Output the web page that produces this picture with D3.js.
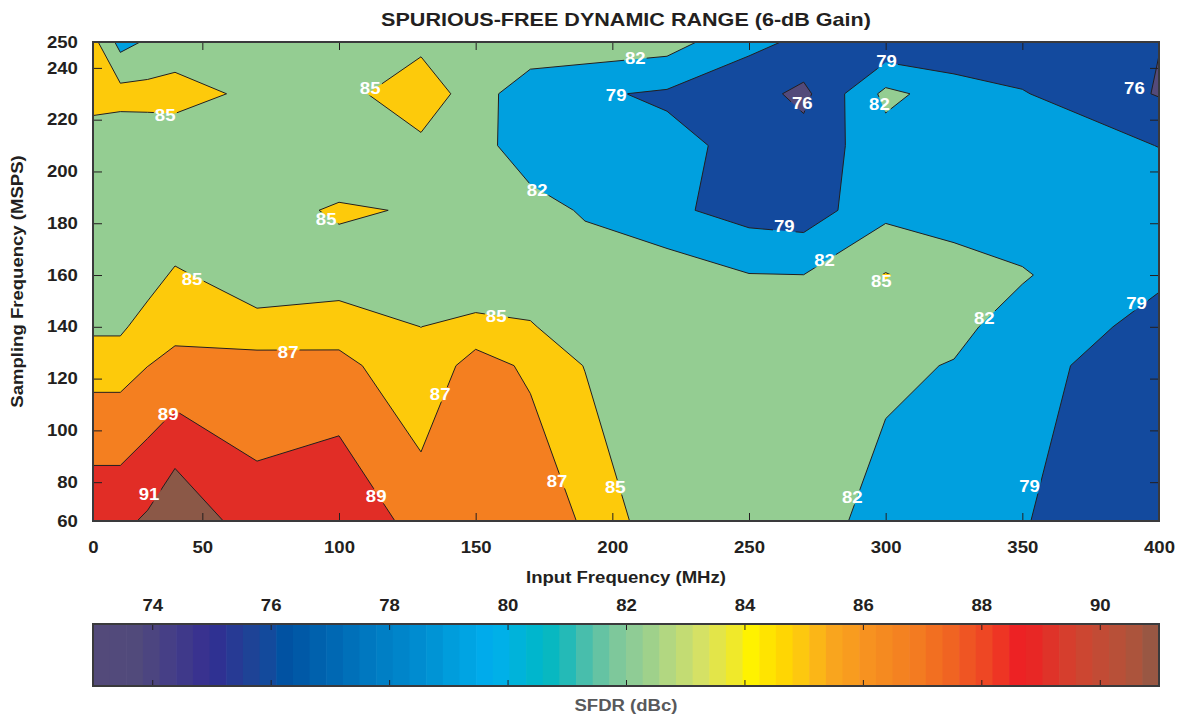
<!DOCTYPE html>
<html>
<head>
<meta charset="utf-8">
<script src="https://cdn.jsdelivr.net/npm/d3@7"></script>
<style>
  body { margin: 0; background: #fff; }
  text { font-family: "Liberation Sans", Arial, Helvetica, sans-serif; font-weight: bold; }
</style>
</head>
<body>
<svg id="chart" width="1183" height="714"></svg>
<script>
/* SFDR contour map, input frequency vs sampling frequency */

// grid the measurements were taken on
const inputFreqs = [10, 20, 30, 40, 70, 100, 130, 150, 170, 190, 220, 250, 270, 300, 325, 350, 400]   // MHz
const sampleRates = [65, 125, 140, 160, 185, 210, 230, 250]                                          // MSPS

// SFDR (dBc), one array per sampling rate, one value per input frequency
const sfdr65  = [90.52, 90.52, 91.30, 92.81, 89.74, 90.70, 88.21, 88.50, 88.65, 86.69, 83.58, 83.50, 83.00, 81.17, 80.10, 79.10, 77.50]
const sfdr125 = [86.27, 86.27, 86.98, 87.46, 87.82, 87.60, 85.49, 87.85, 86.64, 84.93, 84.00, 83.50, 83.00, 82.43, 81.88, 80.09, 77.00]
const sfdr140 = [84.61, 84.61, 86.00, 86.56, 85.77, 86.12, 84.99, 85.83, 85.10, 84.30, 83.80, 83.00, 82.80, 83.50, 82.59, 80.97, 78.00]
const sfdr160 = [83.50, 83.50, 84.00, 85.35, 83.63, 83.91, 83.80, 82.81, 84.27, 84.00, 83.67, 82.10, 82.02, 85.15, 83.30, 82.22, 79.50]
const sfdr185 = [83.00, 83.00, 83.00, 82.85, 84.07, 85.30, 84.80, 83.50, 83.50, 81.60, 79.60, 77.85, 77.42, 81.20, 80.70, 80.54, 80.50]
const sfdr210 = [82.93, 83.04, 83.20, 83.37, 83.50, 82.88, 84.32, 83.50, 79.75, 80.00, 79.79, 78.22, 77.18, 80.76, 81.00, 80.50, 78.95]
const sfdr230 = [86.50, 86.03, 86.00, 86.00, 84.41, 83.94, 87.00, 83.33, 80.16, 79.41, 78.60, 77.15, 75.27, 82.73, 80.68, 79.19, 75.80]
const sfdr250 = [85.94, 80.99, 82.39, 83.59, 83.50, 84.00, 84.20, 84.00, 84.03, 83.91, 83.29, 79.68, 78.50, 76.60, 76.30, 77.00, 76.07]

const levels = [76, 79, 82, 85, 87, 89, 91]

// contour labels: [input MHz, sample MSPS, text]
const contourLabels = [
  [36.4, 221.8, "85"], [111.4, 232.2, "85"], [95.3, 181.6, "85"], [46.2, 158.5, "85"],
  [81.4, 130.3, "87"], [37.5, 106.3, "89"], [30.5, 75.4, "91"], [113.6, 74.7, "89"],
  [137.0, 114.0, "87"], [157.5, 144.2, "85"], [179.8, 80.5, "87"], [201.1, 78.1, "85"],
  [172.5, 192.8, "82"], [208.4, 243.8, "82"], [201.4, 229.5, "79"], [269.5, 226.4, "76"],
  [262.9, 178.9, "79"], [277.6, 165.8, "82"], [300.3, 242.7, "79"], [297.7, 226.0, "82"],
  [298.4, 157.7, "85"], [336.1, 143.4, "82"], [391.8, 149.2, "79"], [391.0, 232.2, "76"],
  [287.8, 74.3, "82"], [352.6, 78.5, "79"]
]

const xTicks = [10, 50, 100, 150, 200, 250, 300, 350, 400]
const yTicks = [65, 80, 100, 120, 140, 160, 180, 200, 220, 240, 250]
const cbTicks = [74, 76, 78, 80, 82, 84, 86, 88, 90]

// colour map of the colour bar (value -> colour)
const cmapStops = [73, 73.8, 74.25, 74.85, 75.1, 75.65, 75.95, 76.25, 77, 77.75, 78.35, 78.9, 79.15, 79.75, 80.05,
  80.6, 80.85, 81.4, 81.95, 82.25, 82.8, 83.3, 83.85, 84.1, 84.6, 84.95, 85.5, 86.2, 86.95, 87.5, 88.1, 88.7,
  89, 89.6, 90.2, 90.75, 91]
const cmapColors = ["#534a7a", "#514a7b", "#463f86", "#38328f", "#2f3192", "#1f4296", "#134a9c", "#0052a2", "#0066b1",
  "#007bc2", "#0088cd", "#0098d8", "#00a0de", "#00aeef", "#00b2e0", "#00b7c6", "#0fb8bd", "#55c0a8", "#86c999",
  "#94cd92", "#b8d97d", "#d7e263", "#f1e928", "#fff200", "#ffda00", "#fdc80f", "#f9a61e", "#f68e20", "#f37a21",
  "#f06322", "#ee4424", "#ed1c24", "#e52d26", "#d1432f", "#bc4f37", "#a4563f", "#8b5847"]
// fill of each band: below 76, then >= each level
const bandColors = ["#534a7a", "#134a9e", "#00a0df", "#94cd92", "#fdca0b", "#f47f20", "#e12d26", "#8b5847"]

const W = 1183, H = 714
const stretch = 1.16
const ink = "#231f20"
const svg = d3.select("#chart")

const x = d3.scaleLinear([10, 400], [93, 1159])
const y = d3.scaleLinear([65, 250], [521, 42])

// grid index -> data value (the grid is not evenly spaced)
const fx = d3.scaleLinear(d3.range(inputFreqs.length), inputFreqs).clamp(true)
const fy = d3.scaleLinear(d3.range(sampleRates.length), sampleRates).clamp(true)
const path = d3.geoPath(d3.geoTransform({
  point(px, py) { this.stream.point(x(fx(px - 0.5)), y(fy(py - 0.5))) }
}))

const rows = [sfdr65, sfdr125, sfdr140, sfdr160, sfdr185, sfdr210, sfdr230, sfdr250]
const values = rows.flat()
const contours = d3.contours()
  .size([inputFreqs.length, sampleRates.length])
  .thresholds(levels)(values)

// mask that opens gaps in the contour lines behind the labels
const mask = svg.append("defs").append("mask").attr("id", "gaps")
  .attr("maskUnits", "userSpaceOnUse").attr("x", 0).attr("y", 0).attr("width", W).attr("height", H)
mask.append("rect").attr("width", W).attr("height", H).attr("fill", "white")

// filled bands
svg.append("rect")
  .attr("x", x(10)).attr("y", y(250))
  .attr("width", x(400) - x(10)).attr("height", y(65) - y(250))
  .attr("fill", bandColors[0])
svg.append("g").selectAll("path").data(contours).join("path")
  .attr("d", path)
  .attr("fill", (d, i) => bandColors[i + 1])
svg.append("g").attr("mask", "url(#gaps)").selectAll("path").data(contours).join("path")
  .attr("d", path)
  .attr("fill", "none")
  .attr("stroke", ink)
  .attr("stroke-width", 1)
  .attr("stroke-linejoin", "round")

// contour labels
const lab = svg.append("g").selectAll("g").data(contourLabels).join("g")
  .attr("transform", d => `translate(${x(d[0])},${y(d[1])})`)
lab.append("text")
  .attr("transform", `scale(${stretch},1)`)
  .attr("text-anchor", "middle")
  .attr("dy", "0.36em")
  .attr("font-size", 16)
  .attr("fill", "#fff")
  .text(d => d[2])
lab.each(function (d) {
  const b = this.getBBox()
  mask.append("rect")
    .attr("x", x(d[0]) + b.x - 1).attr("y", y(d[1]) + b.y + 2)
    .attr("width", b.width + 2).attr("height", b.height - 4)
    .attr("fill", "black")
})

// axes
const styleText = g => g.selectAll("text")
  .attr("font-size", 16).attr("fill", ink)
  .attr("transform", `scale(${stretch},1)`)

svg.append("g")
  .attr("transform", `translate(0,${y(65)})`)
  .call(d3.axisBottom(x).tickValues(xTicks).tickFormat(d => d === 10 ? "0" : d).tickSize(-8).tickPadding(21))
  .call(g => g.select(".domain").remove())
  .call(g => g.selectAll(".tick line").attr("stroke", ink))
  .call(styleText)
svg.append("g")
  .attr("transform", `translate(0,${y(250)})`)
  .call(d3.axisTop(x).tickValues(xTicks.slice(1, -1)).tickFormat("").tickSize(-8))
  .call(g => g.select(".domain").remove())
  .call(g => g.selectAll(".tick line").attr("stroke", ink))
svg.append("g")
  .attr("transform", `translate(${x(10)},0)`)
  .call(d3.axisLeft(y).tickValues(yTicks).tickFormat(d => d === 65 ? "60" : d).tickSize(-9).tickPadding(13))
  .call(g => g.select(".domain").remove())
  .call(g => g.selectAll(".tick line").attr("stroke", ink))
  .call(styleText)
svg.append("g")
  .attr("transform", `translate(${x(400)},0)`)
  .call(d3.axisRight(y).tickValues(yTicks.slice(1, -1)).tickFormat("").tickSize(-9))
  .call(g => g.select(".domain").remove())
  .call(g => g.selectAll(".tick line").attr("stroke", ink))

svg.append("rect")
  .attr("x", x(10)).attr("y", y(250))
  .attr("width", x(400) - x(10)).attr("height", y(65) - y(250))
  .attr("fill", "none").attr("stroke", "#3a3a3c").attr("stroke-width", 2)

// titles
svg.append("g").attr("transform", `translate(${(x(10) + x(400)) / 2},26)`)
  .append("text").attr("transform", `scale(${stretch},1)`)
  .attr("text-anchor", "middle").attr("font-size", 18.6).attr("fill", ink)
  .text("SPURIOUS-FREE DYNAMIC RANGE (6-dB Gain)")
svg.append("g").attr("transform", `translate(${(x(10) + x(400)) / 2},583)`)
  .append("text").attr("transform", `scale(${stretch},1)`)
  .attr("text-anchor", "middle").attr("font-size", 16).attr("fill", ink)
  .text("Input Frequency (MHz)")
svg.append("g").attr("transform", `translate(23,${(y(65) + y(250)) / 2}) rotate(-90)`)
  .append("text").attr("transform", `scale(${stretch},1)`)
  .attr("text-anchor", "middle").attr("font-size", 16).attr("fill", ink)
  .text("Sampling Frequency (MSPS)")

// colour bar
const cb = d3.scaleLinear([73, 91], [93, 1159])
const cmap = d3.scaleLinear(cmapStops, cmapColors).clamp(true)
const nStripes = 64
const step = (91 - 73) / nStripes
const cbTop = 624, cbBottom = 686
svg.append("g").selectAll("rect").data(d3.range(nStripes)).join("rect")
  .attr("x", i => cb(73 + i * step))
  .attr("y", cbTop)
  .attr("width", i => cb(73 + (i + 1) * step) - cb(73 + i * step) + 0.6)
  .attr("height", cbBottom - cbTop)
  .attr("fill", i => cmap(73 + (i + 0.5) * step))
svg.append("g")
  .attr("transform", `translate(0,${cbTop})`)
  .call(d3.axisTop(cb).tickValues(cbTicks).tickSize(-6).tickPadding(13))
  .call(g => g.select(".domain").remove())
  .call(g => g.selectAll(".tick line").attr("stroke", ink))
  .call(styleText)
svg.append("g")
  .attr("transform", `translate(0,${cbBottom})`)
  .call(d3.axisBottom(cb).tickValues(cbTicks).tickSize(-6).tickFormat(""))
  .call(g => g.select(".domain").remove())
  .call(g => g.selectAll(".tick line").attr("stroke", ink))
svg.append("rect")
  .attr("x", cb(73)).attr("y", cbTop)
  .attr("width", cb(91) - cb(73)).attr("height", cbBottom - cbTop)
  .attr("fill", "none").attr("stroke", "#3a3a3c").attr("stroke-width", 2)
svg.append("g").attr("transform", `translate(${(cb(73) + cb(91)) / 2},711)`)
  .append("text").attr("transform", `scale(${stretch},1)`)
  .attr("text-anchor", "middle").attr("font-size", 16).attr("fill", "#58595b")
  .text("SFDR (dBc)")
</script>
</body>
</html>
